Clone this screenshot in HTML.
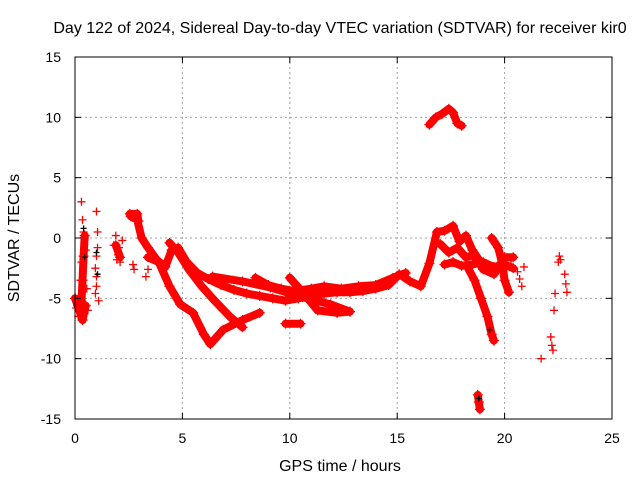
<!DOCTYPE html>
<html><head><meta charset="utf-8">
<style>
body{margin:0;background:#fff;}
svg{display:block;font-family:"Liberation Sans",sans-serif;}
</style></head>
<body>
<svg id="chart" width="640" height="480" viewBox="0 0 640 480">
<rect width="640" height="480" fill="#fff"/>
<text x="340" y="33" font-size="16" text-anchor="middle">Day 122 of 2024, Sidereal Day-to-day VTEC variation (SDTVAR) for receiver kir0</text>
<text x="340" y="471" font-size="16" text-anchor="middle">GPS time / hours</text>
<text transform="translate(19,238) rotate(-90)" font-size="16" text-anchor="middle">SDTVAR / TECUs</text>
<g id="grid"></g>
<g id="marks"></g>
<rect x="75" y="57" width="537" height="362" fill="none" stroke="#000" stroke-width="1"/>
<g id="ticks"></g>
</svg>
<script>
const xTicks=[0,5,10,15,20,25];
const yTicks=[-15,-10,-5,0,5,10,15];
// continuous bands [hour, value]
const bandUpper=[[2.6,1.8],[2.9,1.5],[3.1,0],[3.4,-0.8],[3.8,-1.8],[4.2,-2.4],[4.5,-1.0],[4.8,-0.8],[5.2,-2.0],[5.7,-2.9],[6.2,-3.4],[6.8,-3.9],[7.4,-4.3],[8.0,-4.6],[8.6,-4.8],[9.2,-5.0],[9.8,-5.2],[10.4,-5.0],[11.0,-4.8],[11.6,-4.6],[12.2,-4.5],[12.8,-4.5],[13.4,-4.4],[14.0,-4.2],[14.6,-3.9],[15.1,-3.0],[15.6,-3.6],[16.1,-4.0],[16.5,-2.1],[16.85,0.5],[17.2,0.6],[17.6,1.0],[17.9,-0.3],[18.2,0.2],[18.5,-1.0],[18.8,-1.8]];
const bandLoop=[[3.4,-1.6],[3.9,-2.0],[4.4,-4.0],[4.9,-5.5],[5.5,-6.2],[6.0,-8.0],[6.3,-8.8],[6.9,-7.6],[7.8,-6.8],[8.6,-6.2]];
const bandMiddle=[[4.4,-0.4],[4.8,-1.2],[5.3,-2.6],[5.9,-4.0],[6.5,-5.2],[7.2,-6.5],[7.8,-7.4]];
const bandLow=[[6.4,-3.2],[7.8,-3.6],[9.1,-4.1],[10.6,-4.9],[11.9,-5.5],[12.8,-6.1]];
const bandCross=[[10.0,-3.3],[10.6,-4.5],[11.3,-6.0],[12.2,-6.2],[12.8,-6.1]];
const bandShort=[[9.8,-7.1],[10.5,-7.1]];
const bandMidTop=[[8.4,-3.3],[9.0,-3.9],[9.6,-4.2],[10.2,-4.4],[11.0,-4.2],[11.6,-4.0],[12.4,-4.2],[13.2,-4.0],[14.0,-3.9],[14.8,-3.3],[15.4,-2.9]];
const bandLate=[[17.2,-2.2],[17.6,-2.0],[18.0,-2.3],[18.5,-2.2],[19.0,-2.0],[19.5,-2.4],[20.0,-2.2],[20.4,-2.5]];
const bandLate2=[[17.0,-0.5],[17.4,-1.2],[17.8,-0.8],[18.2,-1.6],[18.6,-1.4],[19.0,-2.6],[19.5,-3.0],[20.0,-1.6],[20.4,-1.6]];
const bandDip=[[18.3,-2.5],[18.6,-3.5],[18.9,-5.0],[19.2,-6.5],[19.4,-8.0],[19.5,-8.5]];
const bandDrop=[[19.4,0],[19.7,-0.8],[19.9,-2.2],[20.0,-3.5],[20.2,-4.5]];
const bandHigh=[[16.5,9.4],[16.8,10.0],[17.1,10.3],[17.4,10.7],[17.6,10.4],[17.8,9.5],[18.0,9.3]];
const bandFar=[[18.75,-13.0],[18.8,-13.6],[18.85,-14.2]];
const bandEarly=[[0.0,-5.0],[0.2,-6.0],[0.35,-6.8],[0.5,-5.6]];
const bandEarly2=[[0.3,-5.5],[0.35,-3.5],[0.4,-1.5],[0.45,0.2]];
const bandTop=[[2.55,2.0],[2.9,2.0],[2.95,1.4]];
const bandSmall=[[1.9,-0.6],[2.1,-1.6]];
// scattered points
const scatterX=[0.3,0.35,0.4,0.45,0.5,0.3,0.25,0.4,1.0,1.05,1.0,0.95,1.0,1.1,1.8,1.9,2.0,2.1,2.2,1.95,2.05,2.7,2.75,3.3,3.4,20.3,20.6,20.8,20.7,20.9,21.7,22.15,22.2,22.25,22.3,22.35,22.5,22.55,22.6,22.8,22.85,22.9,0.1,0.2,0.6,0.15,0.55,0.05,1.0,0.95,1.05];
const scatterY=[3.0,1.5,0.5,0,-1,-2,-3.5,-4.2,2.2,0.5,-1.5,-2.5,-4.0,-5.2,-0.6,0.2,-1.4,-2.0,-0.2,-1.8,-0.8,-2.2,-2.6,-3.2,-2.6,-1.8,-2.8,-4.0,-3.4,-2.4,-10.0,-8.2,-8.9,-9.3,-6.0,-4.6,-2.0,-1.5,-1.8,-3.0,-3.8,-4.5,-5.6,-4.8,-6.0,-6.5,-4.2,-5.8,-3.2,-4.6,-0.8];
const blackX=[0.4,0.45,1.0,1.05,19.3,18.8];
const blackY=[0.8,-1.6,-1.2,-3.0,-7.6,-13.3];

const NS="http://www.w3.org/2000/svg";
const X0=75,X1=612,Y0=419,Y1=57;
function sx(h){return X0+(h-0)/(25-0)*(X1-X0);}
function sy(v){return Y0-(v+15)/30*(Y0-Y1);}
function mk(tag,attrs,parent){const e=document.createElementNS(NS,tag);for(const k in attrs)e.setAttribute(k,attrs[k]);parent.appendChild(e);return e;}
const grid=document.getElementById('grid'),ticks=document.getElementById('ticks'),marks=document.getElementById('marks');
xTicks.forEach(t=>{
 const x=sx(t);
 if(t>0&&t<25){const g=mk('line',{x1:x,x2:x,y1:Y1,y2:Y0,stroke:'#a0a0a0','stroke-dasharray':'2,3'},grid);
 
 }
 mk('line',{x1:x,x2:x,y1:Y0,y2:Y0-6,stroke:'#000'},ticks);
 mk('line',{x1:x,x2:x,y1:Y1,y2:Y1+6,stroke:'#000'},ticks);
 const l=mk('text',{x:x,y:443,'font-size':14,'text-anchor':'middle'},ticks);l.textContent=t;
 
 
});
yTicks.forEach(t=>{
 const y=sy(t);
 if(t>-15&&t<15){const g=mk('line',{x1:X0,x2:X1,y1:y,y2:y,stroke:'#a0a0a0','stroke-dasharray':'2,3'},grid);
 
 }
 mk('line',{x1:X0,x2:X0+6,y1:y,y2:y,stroke:'#000'},ticks);
 mk('line',{x1:X1,x2:X1-6,y1:y,y2:y,stroke:'#000'},ticks);
 const l=mk('text',{x:61,y:y+5,'font-size':14,'text-anchor':'end'},ticks);l.textContent=t;
 
 
});
function plus(x,y,c,s){const p=mk('path',{d:`M${x-s} ${y}H${x+s}M${x} ${y-s}V${y+s}`,stroke:c,'stroke-width':1.3,fill:'none'},marks);
 
 }
const bands=[bandUpper,bandLoop,bandMiddle,bandLow,bandCross,bandShort,bandMidTop,bandLate,bandLate2,bandDip,bandDrop,bandHigh,bandFar,bandEarly,bandEarly2,bandTop,bandSmall];
bands.forEach(b=>{
 const pts=b.map(p=>sx(p[0]).toFixed(1)+','+sy(p[1]).toFixed(1)).join(' ');
 const pl=mk('polyline',{points:pts,fill:'none',stroke:'#ff0000','stroke-width':8,'stroke-linejoin':'round','stroke-linecap':'round'},marks);
 
 
 b.forEach(p=>plus(sx(p[0]),sy(p[1]),'#ff0000',5));
});
scatterX.forEach((h,i)=>plus(sx(h),sy(scatterY[i]),'#ff0000',4));
blackX.forEach((h,i)=>plus(sx(h),sy(blackY[i]),'#000',3));
</script>
</body></html>
